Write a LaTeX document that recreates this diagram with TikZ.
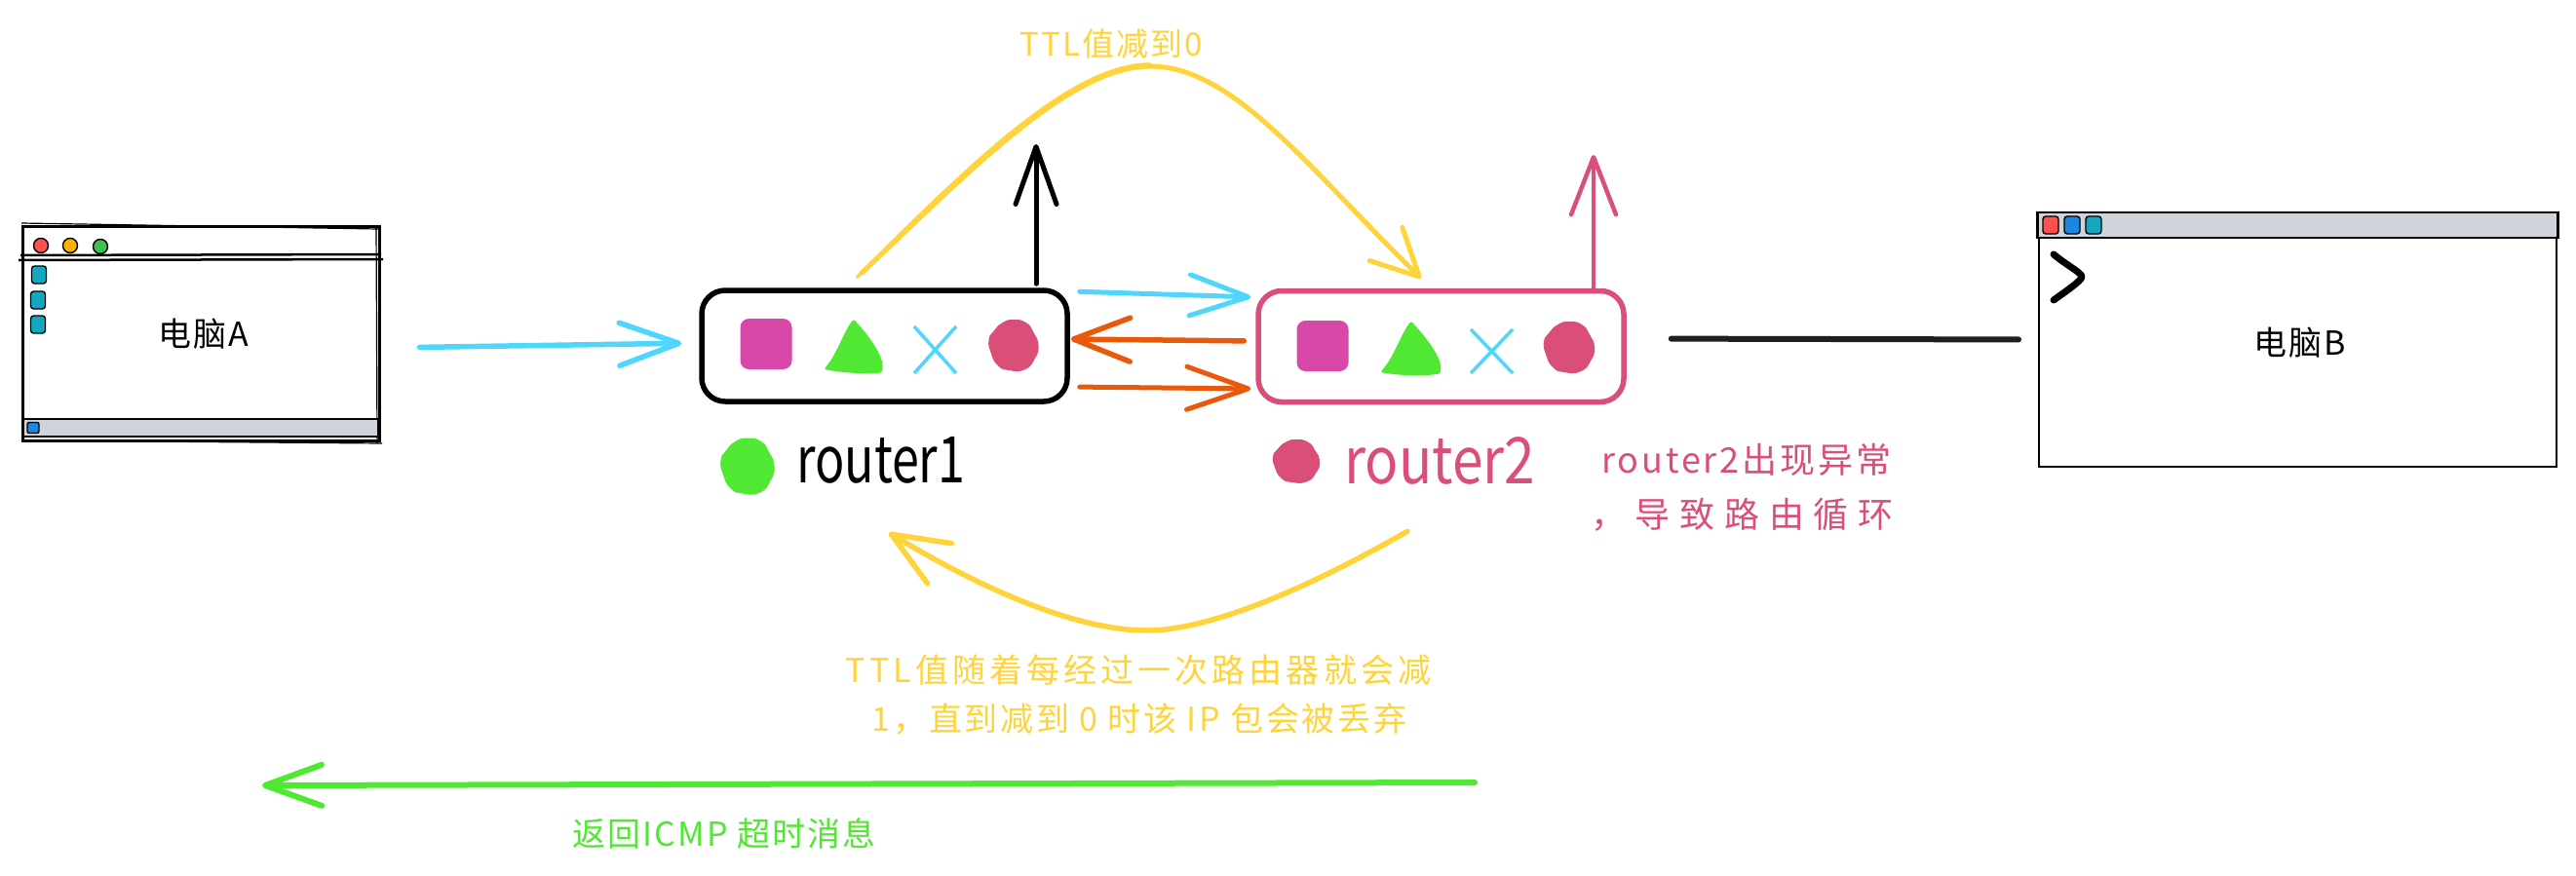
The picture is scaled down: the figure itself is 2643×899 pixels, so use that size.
\documentclass[tikz,border=0pt]{standalone}
\usepackage{fontspec}
\usetikzlibrary{arrows.meta}
\newfontfamily\handwide{Noto Sans CJK SC}
\newfontfamily\handa[FakeStretch=0.76]{Noto Sans CJK SC}
\newfontfamily\handb[FakeStretch=0.86]{Noto Sans CJK SC}
\newcommand\penfont[2]{\handwide\fontsize{#1pt}{#1pt}\selectfont\addfontfeature{LetterSpace=#2}}
\definecolor{cyanink}{HTML}{50D6FD}
\definecolor{yellowink}{HTML}{FFD43B}
\definecolor{orangeink}{HTML}{E8590C}
\definecolor{pinkink}{HTML}{D748A8}
\definecolor{redink}{HTML}{D94F78}
\definecolor{greenink}{HTML}{50E832}
\definecolor{tealink}{HTML}{13A8C0}
\definecolor{grayink}{HTML}{CED4DA}
\definecolor{blueink}{HTML}{1C86E0}
\definecolor{redbtn}{HTML}{FF5050}
\definecolor{ambbtn}{HTML}{FFB000}
\definecolor{grnbtn}{HTML}{40C050}
\newcommand\inkblob[5]{% colour, cx, cy, rx, ry
  \fill[#1,shift={(#2,#3)},xscale=#4,yscale=#5] plot[smooth cycle,tension=.9] coordinates
   {(0,-1) (.5,-.88) (.8,-.5) (1,.02) (.85,.55) (.45,.97) (-.2,1) (-.65,.8) (-.92,.3) (-1,-.2) (-.8,-.55) (-.45,-.88)};}
\tikzset{
  x=1pt,y=-1pt,
  routerbox/.style={draw,line width=5.5pt,rounded corners=24pt,minimum width=375pt,minimum height=114pt,inner sep=0pt,fill=white},
  square/.style={fill=pinkink,rounded corners=9pt,minimum width=53pt,minimum height=52pt,inner sep=0pt},
  winbox/.style={draw,inner sep=0pt,fill=white},
  bar/.style={draw,fill=grayink,inner sep=0pt},
  dot/.style={circle,draw,line width=1.4pt,minimum size=15pt,inner sep=0pt},
  tile/.style={draw,line width=1.4pt,rounded corners=3pt,inner sep=0pt,minimum width=15pt,minimum height=18pt},
  lbl/.style={inner sep=0pt,align=center},
  conn/.style={line cap=round,line join=round},
  barb/.style n args={2}{-{Straight Barb[length=#1pt,width=#2pt,round]}},
}
\begin{document}
\begin{tikzpicture}
\useasboundingbox[fill=white] (0,0) rectangle (2643,899);

% computer A
\node[winbox,line width=3pt,minimum width=366pt,minimum height=220pt] (winA) at (206,342) {};
\draw[line width=1.2pt] (22,229) -- (388,235) (386,231) -- (387,455) (22,452) -- (392,455);
\draw[line width=2.5pt] (21,262) -- (391,261) (19,267) -- (393,266);
\node[dot,fill=redbtn] (dotA) at (42,252) {};
\node[dot,fill=ambbtn] (dotB) at (72,252) {};
\node[dot,fill=grnbtn] (dotC) at (103,253) {};
\node[tile,fill=tealink] (tileA) at (40,282) {};
\node[tile,fill=tealink] (tileB) at (39,308) {};
\node[tile,fill=tealink] (tileC) at (39,333) {};
\node[bar,line width=1.5pt,minimum width=364pt,minimum height=18pt] (statusA) at (206,439) {};
\node[draw,line width=1.4pt,fill=blueink,rounded corners=2pt,minimum width=12pt,minimum height=11pt,inner sep=0pt] (tileS) at (34,439) {};
\node[lbl,font=\penfont{34}{6}] (labelA) at (209,343) {电脑A};

% computer B
\node[winbox,line width=2pt,minimum width=531pt,minimum height=261pt] (winB) at (2357.5,348.5) {};
\node[bar,line width=2.2pt,minimum width=534pt,minimum height=26pt] (barB) at (2357.5,231) {};
\node[tile,fill=redbtn,minimum width=16pt] (btnA) at (2104,231) {};
\node[tile,fill=blueink,minimum width=16pt] (btnB) at (2126,231) {};
\node[tile,fill=tealink,minimum width=16pt] (btnC) at (2148,231) {};
\draw[line width=7pt,line cap=round,line join=round] (2107,261) .. controls (2120,272) and (2136,280) .. (2136,284) .. controls (2136,288) and (2118,300) .. (2107,308);
\node[lbl,font=\penfont{34}{6}] (labelB) at (2360,352) {电脑B};

% router 1
\node[routerbox] (r1) at (907.5,355) {};
\node[square] (r1s) at (786,353) {};
\fill[greenink,line join=round,draw=greenink,line width=3pt] (876,330) .. controls (868,338) and (860,365) .. (848,378) .. controls (865,381) and (890,383) .. (903,381) .. controls (909,370) and (890,345) .. (876,330) -- cycle;
\draw[cyanink,line width=3.5pt] (938,335) -- (981,383) (981,335) -- (938,383);
\inkblob{redink}{1040}{354}{25.5}{26}

% router 2
\node[routerbox,draw=redink] (r2) at (1478.5,355.5) {};
\node[square] (r2s) at (1357,355) {};
\fill[greenink,line join=round,draw=greenink,line width=3pt] (1448,332) .. controls (1440,340) and (1432,367) .. (1419,381) .. controls (1437,384) and (1462,385) .. (1476,382) .. controls (1481,371) and (1462,347) .. (1448,332) -- cycle;
\draw[cyanink,line width=3.5pt] (1509,338) -- (1552,383) (1552,338) -- (1509,383);
\inkblob{redink}{1610}{356}{26}{26}

% legends
\inkblob{greenink}{767}{478}{27.5}{28.5}
\node[inner sep=0pt,anchor=west,font=\handa\fontsize{66pt}{70pt}\selectfont] (nameA) at (817,472) {router1};
\inkblob{redink}{1330}{473}{24}{22}
\node[inner sep=0pt,anchor=west,font=\handb\fontsize{66pt}{70pt}\selectfont,text=redink] (nameB) at (1379,473) {router2};

% free ends
\coordinate (blackEnd) at (1063,148);
\coordinate (redEnd) at (1635,159);
\coordinate (greenStart) at (1513,803);
\coordinate (greenEnd) at (269,806);

% connectors
\draw[conn,cyanink,line width=5.5pt,shorten <=40pt,shorten >=18pt,barb={61}{44}] ([yshift=-15pt]winA.east) -- ([yshift=3pt]r1.west);
\draw[conn,cyanink,line width=5pt,shorten <=10pt,shorten >=5pt,barb={60}{42}] ([yshift=56pt]r1.east) -- ([yshift=50.5pt]r2.west);
\draw[conn,orangeink,line width=5.5pt,shorten <=12pt,shorten >=1pt,barb={58}{45}] ([yshift=5.5pt]r2.west) -- ([yshift=7pt]r1.east);
\draw[conn,orangeink,line width=5pt,shorten <=10pt,shorten >=5pt,barb={63}{44}] ([yshift=-42pt]r1.east) -- ([yshift=-43.5pt]r2.west);
\draw[conn,line width=5pt,barb={59}{42}] ([shift={(155.5pt,4pt)}]r1.north) -- (blackEnd);
\draw[conn,redink,line width=4.5pt,barb={59}{46}] ([shift={(156.5pt,0pt)}]r2.north) -- (redEnd);
\draw[line cap=round,line width=6pt,color={black!88},shorten <=46pt,shorten >=20pt] ([yshift=8pt]r2.east) -- (winB.west);
\draw[conn,yellowink,line width=5pt,barb={48}{48}] ([shift={(-23.5pt,15pt)}]r1.north) .. controls (1000,170) and (1100,68) .. (1180,68) .. controls (1265,68) and (1340,170) .. ([shift={(-20.5pt,10pt)}]r2.north);
\draw[conn,yellowink,line width=3.5pt] ([shift={(-28pt,11pt)}]r1.north) .. controls (997,167) and (1100,66) .. (1180,66);
\draw[conn,yellowink,line width=5.5pt,barb={58}{48}] ([shift={(-34.5pt,-130pt)}]r2.south) .. controls (1340,605) and (1240,647) .. (1177,647) .. controls (1100,647) and (1000,600) .. ([shift={(4.5pt,-132pt)}]r1.south);
\draw[conn,greenink,line width=6pt,barb={58}{42}] (greenStart) -- (greenEnd);

% labels
\node[lbl,text=yellowink,font=\penfont{33}{6}] (ttlTop) at (1140,45) {TTL值减到0};
\node[lbl,text=yellowink,font=\penfont{34}{12}] (ttlNoteA) at (1168,688) {TTL值随着每经过一次路由器就会减};
\node[lbl,text=yellowink,font=\penfont{34}{8}] (ttlNoteB) at (1169,738) {1，直到减到 0 时该 IP 包会被丢弃};
\node[lbl,text=redink,anchor=west,font=\penfont{36}{8}] (routerNoteA) at (1643,472) {router2出现异常};
\node[lbl,text=redink,anchor=west,font=\penfont{36}{27}] (routerNoteB) at (1632,528) {，导致路由循环};
\node[lbl,text=greenink,font=\penfont{34}{6}] (icmpNote) at (743,855) {返回ICMP 超时消息};
\end{tikzpicture}
\end{document}
